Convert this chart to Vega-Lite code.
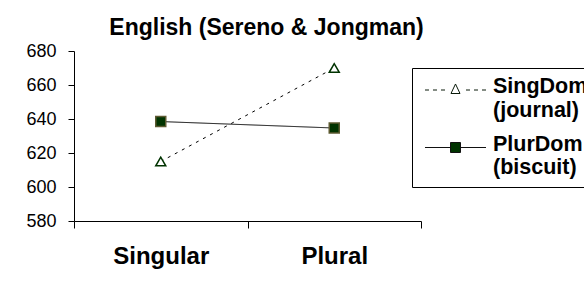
{
  "$schema": "https://vega.github.io/schema/vega-lite/v6.json",
  "width": 347,
  "height": 170,
  "autosize": "none",
  "padding": {"left": 74, "top": 51, "right": 163, "bottom": 77},
  "background": "white",
  "title": {
    "text": "English (Sereno & Jongman)",
    "fontSize": 23,
    "fontWeight": "bold",
    "font": "Liberation Sans",
    "color": "black",
    "anchor": "middle",
    "frame": "group",
    "dx": 19,
    "offset": 2
  },
  "data": {
    "values": [
      {"number": "Singular", "series": "SingDom (journal)", "rt": 615},
      {"number": "Plural", "series": "SingDom (journal)", "rt": 670},
      {"number": "Singular", "series": "PlurDom (biscuit)", "rt": 638.5},
      {"number": "Plural", "series": "PlurDom (biscuit)", "rt": 634.7}
    ]
  },
  "encoding": {
    "x": {
      "field": "number",
      "type": "nominal",
      "sort": ["Singular", "Plural"],
      "scale": {"type": "band", "paddingInner": 0, "paddingOuter": 0},
      "axis": {
        "title": null,
        "labelAngle": 0,
        "labelFont": "Liberation Sans",
        "labelFontSize": 24,
        "labelFontWeight": "bold",
        "labelColor": "black",
        "labelBaseline": "alphabetic",
        "labelPadding": 35,
        "tickBand": "extent",
        "tickSize": 7,
        "tickColor": "black",
        "domainColor": "black",
        "grid": false
      }
    },
    "y": {
      "field": "rt",
      "type": "quantitative",
      "scale": {"domain": [580, 680], "nice": false, "zero": false},
      "axis": {
        "title": null,
        "values": [580, 600, 620, 640, 660, 680],
        "labelFont": "Liberation Sans",
        "labelFontSize": 18,
        "labelColor": "black",
        "labelPadding": 12,
        "tickSize": 6,
        "tickColor": "black",
        "domainColor": "black",
        "grid": false
      }
    }
  },
  "resolve": {"scale": {"shape": "independent", "fill": "independent", "stroke": "independent"}},
  "layer": [
    {
      "mark": {"type": "line", "color": "black", "strokeWidth": 1},
      "encoding": {
        "detail": {"field": "series", "type": "nominal"},
        "strokeDash": {
          "condition": {"test": "datum.series === 'SingDom (journal)'", "value": [3, 5]},
          "value": [1, 0]
        }
      }
    },
    {
      "mark": {"type": "point", "filled": true, "opacity": 1, "size": 100, "strokeWidth": 1.5},
      "encoding": {
        "fill": {
          "condition": {"test": "datum.series === 'SingDom (journal)'", "value": "white"},
          "value": "#003300"
        },
        "stroke": {
          "condition": {"test": "datum.series === 'SingDom (journal)'", "value": "#003300"},
          "value": "#5c5a30"
        },
        "shape": {
          "field": "series",
          "type": "nominal",
          "scale": {"domain": ["SingDom (journal)", "PlurDom (biscuit)"], "range": ["triangle-up", "square"]},
          "legend": null
        }
      }
    },
    {
      "mark": {"type": "point", "filled": false, "opacity": 0, "size": 441, "strokeWidth": 1},
      "encoding": {
        "shape": {
          "field": "series",
          "type": "nominal",
          "scale": {
            "domain": ["SingDom (journal)", "PlurDom (biscuit)"],
            "range": [
              "M-2.905,0.286H-2.524M-2.143,0.286H-1.762M-1.381,0.286H-1M1,0.286H1.381M1.762,0.286H2.143M2.524,0.286H2.905M-0.429,0.619L0,-0.286L0.429,0.619Z",
              "M-2.905,0.286H-0.476M0.476,0.286H2.905M-0.476,-0.19H0.476V0.762H-0.476Z"
            ]
          },
          "legend": {
            "orient": "none",
            "legendX": 338,
            "legendY": 17,
            "title": null,
            "symbolSize": 441,
            "symbolOpacity": 1,
            "symbolOffset": 24.5,
            "symbolStrokeWidth": 1,
            "labelFont": "Liberation Sans",
            "labelFontSize": 21.5,
            "labelFontWeight": "bold",
            "labelColor": "black",
            "labelLineHeight": 23,
            "labelLimit": 400,
            "labelOffset": 26.5,
            "labelExpr": "split(datum.label, ' ')",
            "padding": 8,
            "rowPadding": 12.5,
            "strokeColor": "black",
            "fillColor": "white"
          }
        },
        "fill": {
          "field": "series",
          "type": "nominal",
          "scale": {"domain": ["SingDom (journal)", "PlurDom (biscuit)"], "range": ["white", "#003300"]},
          "legend": {
            "orient": "none",
            "legendX": 338,
            "legendY": 17,
            "title": null,
            "symbolSize": 441,
            "symbolOpacity": 1,
            "symbolOffset": 24.5,
            "symbolStrokeWidth": 1,
            "labelFont": "Liberation Sans",
            "labelFontSize": 21.5,
            "labelFontWeight": "bold",
            "labelColor": "black",
            "labelLineHeight": 23,
            "labelLimit": 400,
            "labelOffset": 26.5,
            "labelExpr": "split(datum.label, ' ')",
            "padding": 8,
            "rowPadding": 12.5,
            "strokeColor": "black",
            "fillColor": "white"
          }
        },
        "stroke": {
          "field": "series",
          "type": "nominal",
          "scale": {"domain": ["SingDom (journal)", "PlurDom (biscuit)"], "range": ["#0a1a0a", "#111111"]},
          "legend": {
            "orient": "none",
            "legendX": 338,
            "legendY": 17,
            "title": null,
            "symbolSize": 441,
            "symbolOpacity": 1,
            "symbolOffset": 24.5,
            "symbolStrokeWidth": 1,
            "labelFont": "Liberation Sans",
            "labelFontSize": 21.5,
            "labelFontWeight": "bold",
            "labelColor": "black",
            "labelLineHeight": 23,
            "labelLimit": 400,
            "labelOffset": 26.5,
            "labelExpr": "split(datum.label, ' ')",
            "padding": 8,
            "rowPadding": 12.5,
            "strokeColor": "black",
            "fillColor": "white"
          }
        }
      }
    }
  ],
  "config": {"view": {"stroke": null}, "font": "Liberation Sans"}
}
